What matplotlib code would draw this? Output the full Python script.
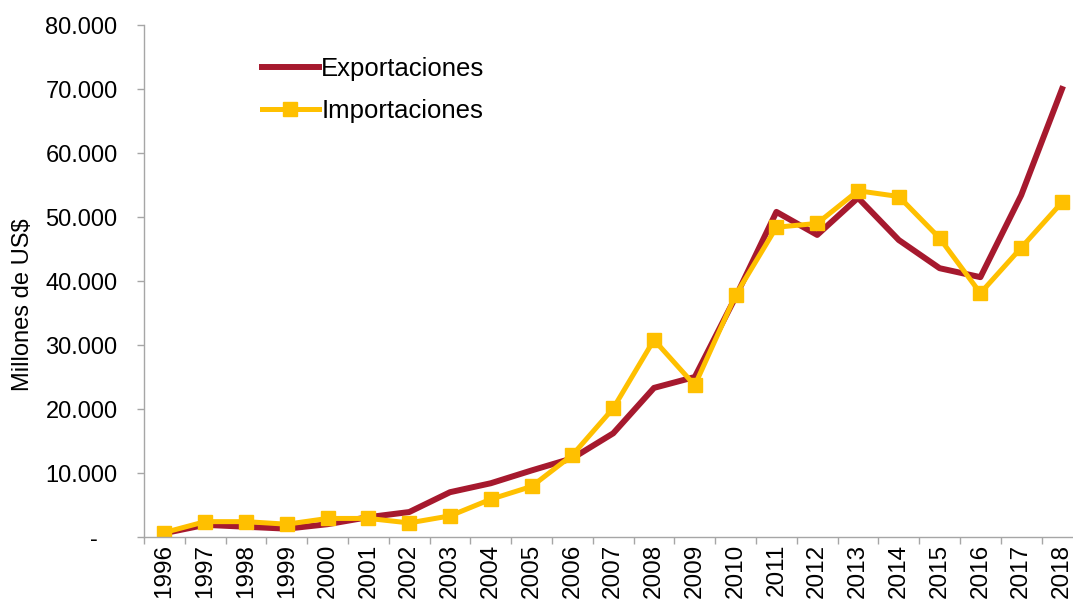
import matplotlib.pyplot as plt
from matplotlib.ticker import FuncFormatter, FixedLocator
import numpy as np

# datos (millones de US$)
anios = [str(a) for a in range(1996, 2019)]
exportaciones = [600, 1900, 1600, 1300, 2000, 3100, 3900, 7000, 8400, 10400, 12300, 16200,
                 23300, 25000, 37500, 50800, 47200, 53000, 46400, 42000, 40600, 53400, 70000]
importaciones = [700, 2400, 2400, 2000, 2900, 2900, 2200, 3300, 5900, 7900, 12800, 20100,
                 30800, 23700, 37800, 48400, 49000, 54100, 53200, 46700, 38100, 45200, 52300]

rojo = '#A6192E'
amarillo = '#FFC000'
gris = '#A6A6A6'

plt.rcParams['font.family'] = ['Liberation Sans', 'DejaVu Sans']

fig = plt.figure(figsize=(10.73, 6.02), dpi=100)
ax = fig.add_axes([144 / 1073, 1 - 537 / 602, 23 * 40.8 / 1073, (537 - 25) / 602])

x = np.arange(len(anios))
ax.plot(x, exportaciones, color=rojo, lw=4.3, label='Exportaciones')
ax.plot(x, importaciones, color=amarillo, lw=3.6, marker='s', markersize=10,
        label='Importaciones')

ax.set_xlim(-0.5, len(anios) - 0.5)
ax.set_ylim(0, 80000)
ax.set_yticks(np.arange(0, 80001, 10000))
# formato contable: cero como guion
ax.yaxis.set_major_formatter(FuncFormatter(
    lambda v, p: '-   ' if v == 0 else f'{int(v):,}'.replace(',', '.')))

ax.set_xticks(x)
ax.set_xticklabels(anios, rotation=90)
ax.xaxis.set_minor_locator(FixedLocator(np.arange(-0.5, len(anios), 1)))
ax.tick_params(axis='x', which='major', length=0, labelsize=17.5, pad=5)
ax.tick_params(axis='x', which='minor', length=5, color=gris, width=1)
ax.tick_params(axis='y', length=5, color=gris, width=1, labelsize=17, pad=14)

for s in ['top', 'right']:
    ax.spines[s].set_visible(False)
for s in ['left', 'bottom']:
    ax.spines[s].set_color(gris)
    ax.spines[s].set_linewidth(1)

ax.set_ylabel('Millones de US$', fontsize=17)
ax.yaxis.set_label_coords(-0.1175, 0.453)

leg = ax.legend(loc='upper left', bbox_to_anchor=(0.115, 0.958), frameon=False, fontsize=18.5,
                handlelength=2.2, handletextpad=0.1, labelspacing=0.7, borderaxespad=0)

fig.savefig('out.png', dpi=100)
